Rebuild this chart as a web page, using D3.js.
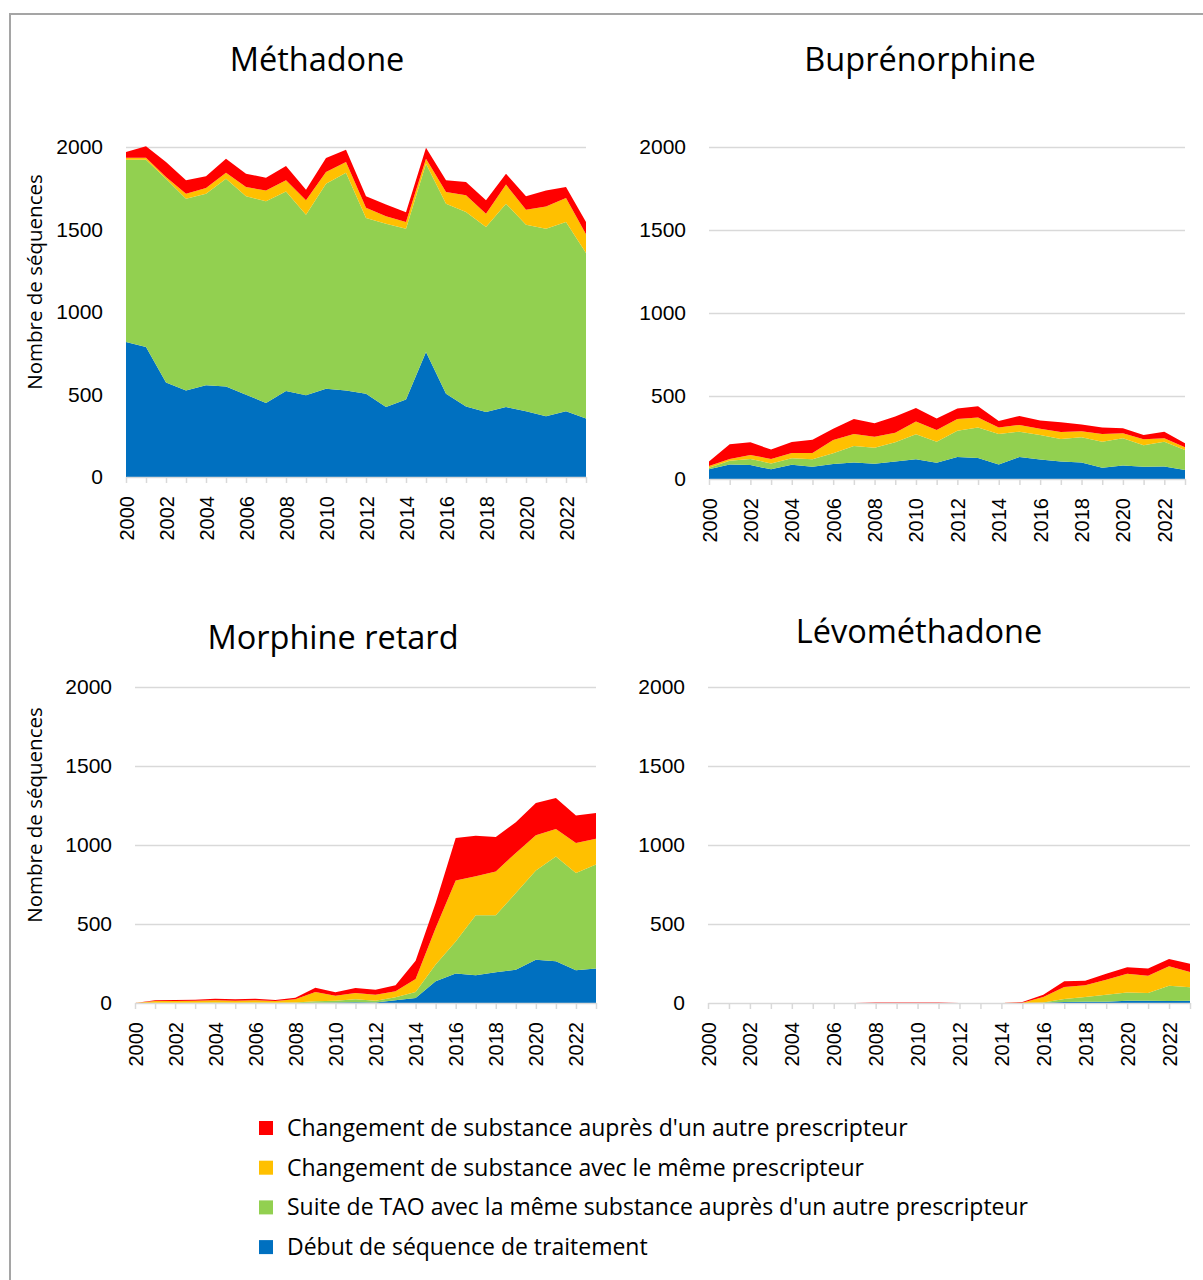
<!DOCTYPE html>
<html lang="fr">
<head>
<meta charset="utf-8">
<style type="text/css">
    body { margin: 0; background: #fff; }
    svg { display: block; font-family: "Open Sans", "Noto Sans", sans-serif; }
    .grid line { stroke: #d9d9d9; stroke-width: 1.5px; }
    .xaxis line, .xaxis path { stroke: #d9d9d9; stroke-width: 1.5px; }
</style>
</head>
<body>
<svg width="1203" height="1280"></svg>

<script src="https://cdn.jsdelivr.net/npm/d3@7"></script>
<script type="text/javascript">

var years = [2000,2001,2002,2003,2004,2005,2006,2007,2008,2009,2010,2011,
             2012,2013,2014,2015,2016,2017,2018,2019,2020,2021,2022,2023];
var yTicks = [0, 500, 1000, 1500, 2000];

var seriesKeys = ["debut", "suite", "meme", "autre"];
var seriesLabels = {
    autre: "Changement de substance auprès d'un autre prescripteur",
    meme: "Changement de substance avec le même prescripteur",
    suite: "Suite de TAO avec la même substance auprès d'un autre prescripteur",
    debut: "Début de séquence de traitement"
};
var colors = { debut: "#0070c0", suite: "#92d050", meme: "#ffc000", autre: "#ff0000" };

// Méthadone
var methDebut = [818,788,572,525,556,549,499,448,521,495,535,525,505,424,469,758,505,428,394,424,398,368,398,354];
var methSuite = [1105,1135,1236,1162,1161,1259,1202,1223,1210,1095,1243,1319,1065,1111,1036,1141,1151,1178,1121,1232,1131,1137,1147,1003];
var methMeme  = [12,12,10,30,34,36,56,66,67,87,70,65,62,45,40,30,71,101,81,116,91,135,146,114];
var methAutre = [35,69,91,81,71,85,81,77,87,64,85,75,69,72,60,67,71,81,81,66,81,97,66,74];

// Buprénorphine
var bupDebut = [58,88,84,58,86,74,90,100,92,106,119,98,133,127,88,133,117,106,100,68,82,74,76,54];
var bupSuite = [10,22,37,36,39,45,65,99,97,115,150,127,158,183,183,152,148,135,151,157,163,129,149,121];
var bupMeme  = [10,11,24,27,32,38,80,72,66,58,77,70,71,60,39,41,37,42,36,46,30,36,20,16];
var bupAutre = [27,88,76,56,66,80,67,91,81,97,82,69,62,68,40,54,50,59,41,39,31,26,40,24];

// Morphine retard
var morDebut = [0,0,0,0,0,0,0,0,0,2,3,4,3,17,32,137,186,175,194,211,274,264,207,219];
var morSuite = [0,2,2,2,3,2,3,2,3,9,12,19,12,19,38,106,204,380,361,485,564,664,616,657];
var morMeme  = [0,10,11,12,14,13,14,11,20,59,31,40,38,38,82,232,386,247,278,254,223,173,190,164];
var morAutre = [0,6,6,7,10,8,10,6,11,27,22,32,31,38,116,158,269,257,218,194,205,197,173,163];

// Lévométhadone
var levDebut = [0,0,0,0,0,0,0,0,0,0,0,0,0,0,0,0,1,6,8,8,15,15,13,15];
var levSuite = [0,0,0,0,0,0,0,0,0,0,0,0,0,0,0,0,2,19,30,45,52,48,96,84];
var levMeme  = [0,0,0,0,0,0,0,0,0,0,0,0,0,0,0,2,35,76,74,94,118,110,123,97];
var levAutre = [0,0,0,0,0,0,0,0,3,3,3,3,0,0,0,4,15,36,29,38,42,46,46,52];

function rows(debut, suite, meme, autre) {
    return years.map(function (y, i) {
        return { year: y, debut: debut[i], suite: suite[i], meme: meme[i], autre: autre[i] };
    });
}

var panels = [
    { title: "Méthadone", data: rows(methDebut, methSuite, methMeme, methAutre),
      x0: 126, x1: 586, y0: 147, y1: 477, tx: 317, ty: 60, ytitle: true },
    { title: "Buprénorphine", data: rows(bupDebut, bupSuite, bupMeme, bupAutre),
      x0: 709, x1: 1185, y0: 147, y1: 479, tx: 920, ty: 60, ytitle: false },
    { title: "Morphine retard", data: rows(morDebut, morSuite, morMeme, morAutre),
      x0: 135, x1: 596, y0: 687, y1: 1003, tx: 333, ty: 638, ytitle: true },
    { title: "Lévométhadone", data: rows(levDebut, levSuite, levMeme, levAutre),
      x0: 708, x1: 1190, y0: 687, y1: 1003, tx: 919, ty: 632, ytitle: false }
];

var svg = d3.select("svg");

// chart frame (only the top and left edges are visible)
svg.append("rect")
    .attr("x", 10).attr("y", 14)
    .attr("width", 1220).attr("height", 1300)
    .attr("fill", "none")
    .attr("stroke", "#a5a5a5")
    .attr("stroke-width", 2);

var stack = d3.stack().keys(seriesKeys);

panels.forEach(function (p) {
    var g = svg.append("g");

    var x = d3.scalePoint().domain(years).range([p.x0, p.x1]);
    var y = d3.scaleLinear().domain([0, 2000]).range([p.y1, p.y0]);

    // grid + y labels
    var yAxis = g.append("g")
        .attr("class", "grid")
        .attr("transform", "translate(" + p.x0 + ",0)")
        .call(d3.axisLeft(y).tickValues(yTicks).tickFormat(d3.format("d"))
            .tickSizeInner(-(p.x1 - p.x0)).tickSizeOuter(0).tickPadding(23));
    yAxis.select(".domain").remove();
    yAxis.selectAll(".tick line").filter(function (d) { return d === 0; }).remove();
    yAxis.selectAll("text")
        .attr("fill", "#000")
        .style("font-size", "21px");

    // stacked areas
    var area = d3.area()
        .x(function (d) { return x(d.data.year); })
        .y0(function (d) { return y(d[0]); })
        .y1(function (d) { return y(d[1]); });

    g.selectAll(".layer")
        .data(stack(p.data))
        .enter().append("path")
        .attr("class", "layer")
        .attr("fill", function (d) { return colors[d.key]; })
        .attr("d", area);

    // x axis
    var xAxis = g.append("g")
        .attr("class", "xaxis")
        .attr("transform", "translate(0," + p.y1 + ")")
        .call(d3.axisBottom(x).tickSizeInner(6).tickSizeOuter(0).tickPadding(0)
            .tickFormat(function (d) { return d % 2 === 0 ? d : ""; }));
    xAxis.selectAll("text")
        .attr("transform", "rotate(-90)")
        .attr("text-anchor", "end")
        .attr("x", -19)
        .attr("y", 0)
        .attr("dy", "0.35em")
        .attr("fill", "#000")
        .style("font-size", "20px");

    // panel title
    g.append("text")
        .attr("x", p.tx).attr("y", p.ty)
        .attr("text-anchor", "middle")
        .attr("dy", "0.35em")
        .style("font-size", "32.5px")
        .attr("fill", "#000")
        .text(p.title);

    if (p.ytitle) {
        g.append("text")
            .attr("transform", "translate(35," + ((p.y0 + p.y1) / 2 - 30) + ") rotate(-90)")
            .attr("text-anchor", "middle")
            .attr("dy", "0.35em")
            .style("font-size", "20.5px")
            .attr("fill", "#000")
            .text("Nombre de séquences");
    }
});

// legend
var legendKeys = ["autre", "meme", "suite", "debut"];
var legend = svg.append("g").attr("transform", "translate(259,1128)");
var item = legend.selectAll(".item")
    .data(legendKeys)
    .enter().append("g")
    .attr("class", "item")
    .attr("transform", function (d, i) { return "translate(0," + (i * 39.7) + ")"; });
item.append("rect")
    .attr("x", 0).attr("y", -7)
    .attr("width", 14).attr("height", 14)
    .attr("fill", function (d) { return colors[d]; });
item.append("text")
    .attr("x", 28).attr("y", 0)
    .attr("dy", "0.35em")
    .style("font-size", "23px")
    .attr("fill", "#000")
    .text(function (d) { return seriesLabels[d]; });

</script>
</body>
</html>
